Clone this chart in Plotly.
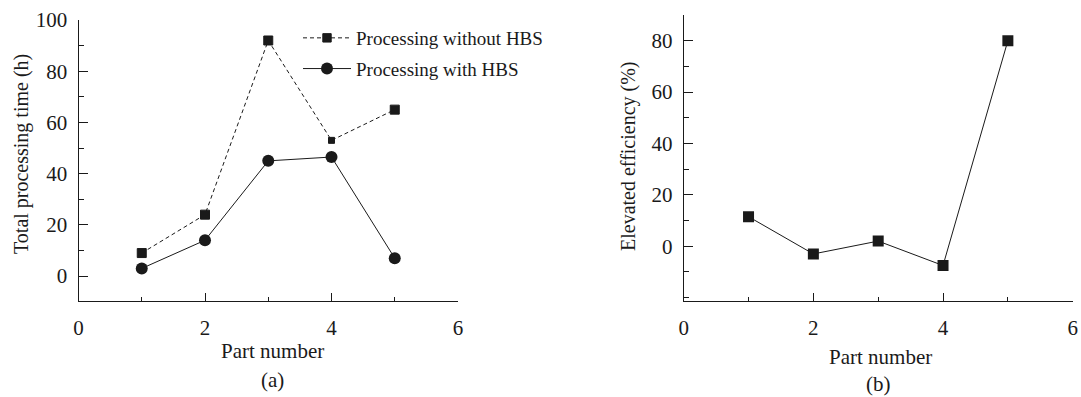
import plotly.graph_objects as go

part = [1, 2, 3, 4, 5]
without_hbs = [9, 24, 92, 53, 65]
with_hbs = [3, 14, 45, 46.5, 7]
efficiency = [11.5, -3, 2, -7.5, 80]

x_ticks = [0, 2, 4, 6]
y_ticks_a = [0, 20, 40, 60, 80, 100]
y_ticks_b = [0, 20, 40, 60, 80]

INK = "#1a1a1a"
FONT = "Liberation Serif"
W, H = 1081, 397

fig = go.Figure()
fig.add_trace(go.Scatter(
    x=part, y=without_hbs, mode="lines+markers", name="Processing without HBS",
    line=dict(color=INK, width=1, dash="4px,3px"),
    marker=dict(symbol="square", size=[9, 9, 9, 6, 9], color=INK, opacity=1,
                line=dict(color=INK, width=1)),
    xaxis="x", yaxis="y", legendgroup="a"))
fig.add_trace(go.Scatter(
    x=part, y=with_hbs, mode="lines+markers", name="Processing with HBS",
    line=dict(color=INK, width=1),
    marker=dict(symbol="circle", size=12, color=INK, opacity=1),
    xaxis="x", yaxis="y", legendgroup="b"))
fig.add_trace(go.Scatter(
    x=part, y=efficiency, mode="lines+markers", name="Elevated efficiency",
    line=dict(color=INK, width=1),
    marker=dict(symbol="square", size=11, color=INK, opacity=1),
    xaxis="x2", yaxis="y2", showlegend=False))

def xax(domain, anchor):
    return dict(domain=domain, anchor=anchor, range=[0, 6], tickvals=x_ticks,
                showline=True, linecolor=INK, linewidth=1, ticks="inside",
                ticklen=8, tickcolor=INK, showgrid=False, zeroline=False,
                ticklabelstandoff=8, automargin=False,
                minor=dict(dtick=1, tick0=0, ticks="inside", ticklen=4, tickcolor=INK, showgrid=False),
                tickfont=dict(family=FONT, size=21, color=INK))

def yax(domain, anchor, rng, tv):
    return dict(domain=domain, anchor=anchor, range=rng, tickvals=tv,
                showline=True, linecolor=INK, linewidth=1, ticks="inside",
                ticklen=9, tickcolor=INK, showgrid=False, zeroline=False,
                ticklabelstandoff=6, automargin=False,
                minor=dict(dtick=10, tick0=0, ticks="inside", ticklen=5, tickcolor=INK, showgrid=False),
                tickfont=dict(family=FONT, size=21, color=INK))

bot = 1 - 300.7 / H
fig.update_layout(
    width=W, height=H, margin=dict(l=0, r=0, t=0, b=0, autoexpand=False),
    paper_bgcolor="white", plot_bgcolor="white",
    font=dict(family=FONT, color=INK),
    xaxis=xax([78.5 / W, 458 / W], "y"),
    yaxis=yax([bot, 1 - 20 / H], "x", [-9.6, 100], y_ticks_a),
    xaxis2=xax([683.7 / W, 1072.7 / W], "y2"),
    yaxis2=yax([bot, 1 - 15 / H], "x2", [-21.2, 90], y_ticks_b),
    legend=dict(x=298 / W, y=1 - 19 / H, xanchor="left", yanchor="top",
                bgcolor="rgba(0,0,0,0)", traceorder="grouped", tracegroupgap=3,
                font=dict(family=FONT, size=19, color=INK), itemwidth=48),
    showlegend=True,
)

def ann(text, x, y, angle=0, size=21):
    fig.add_annotation(text=text, x=x / W, y=1 - y / H, xref="paper", yref="paper",
                       showarrow=False, textangle=angle, xanchor="center", yanchor="middle",
                       font=dict(family=FONT, size=size, color=INK))

ann("Total processing time (h)", 22, 154, -90, 20)
ann("Part number", 273, 351)
ann("(a)", 273, 380)
ann("Elevated efficiency (%)", 628, 156, -90, 20)
ann("Part number", 880, 357)
ann("(b)", 878, 384)

fig.write_html("out.html", config={"displayModeBar": False},
               post_script="document.body.style.margin='0';document.body.style.overflow='hidden';")
